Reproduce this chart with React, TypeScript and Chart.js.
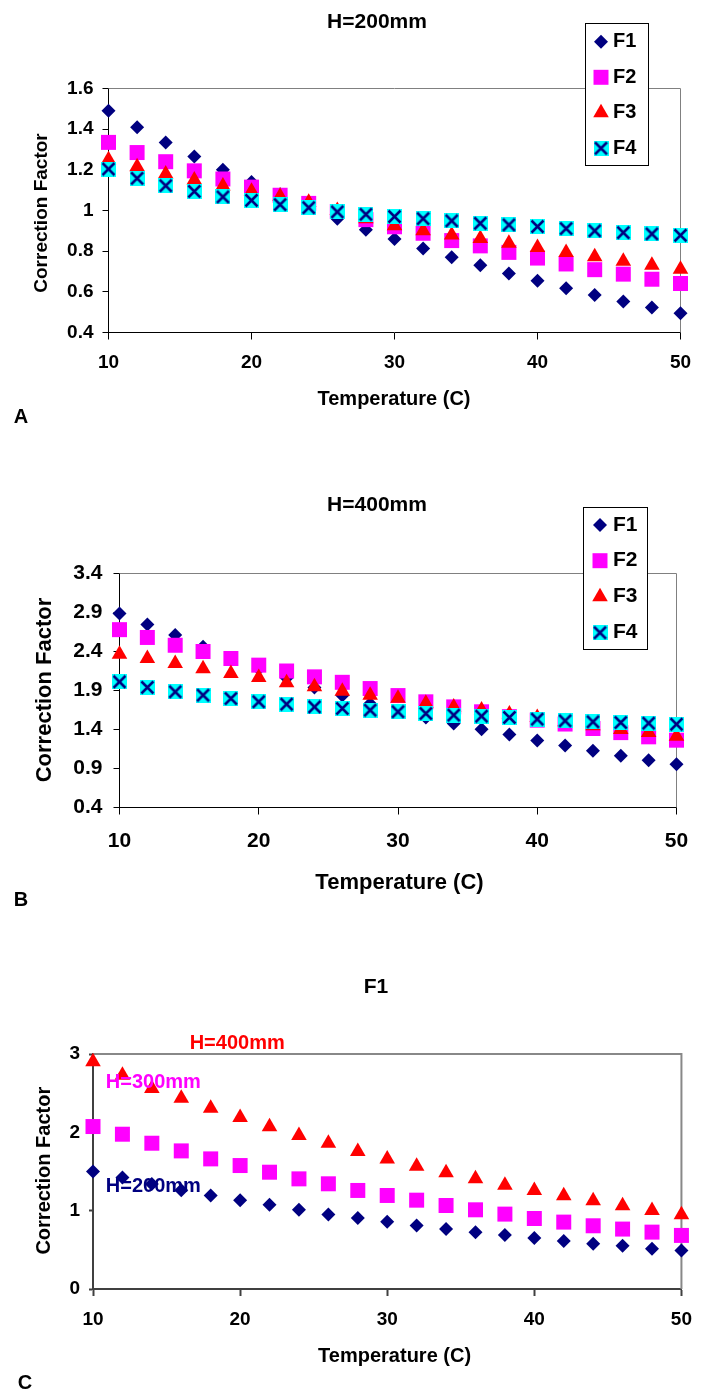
import React, { useEffect, useRef } from 'react';
import { Chart, registerables } from 'chart.js';
import { drawPoint } from 'chart.js/helpers';

Chart.register(...registerables);

// ---------- data ----------
const temperatures = [10, 12, 14, 16, 18, 20, 22, 24, 26, 28, 30, 32, 34, 36, 38, 40, 42, 44, 46, 48, 50];
const xTickValues = [10, 20, 30, 40, 50];

// Panel A: H=200mm
const h200F1 = [1.49, 1.41, 1.335, 1.265, 1.2, 1.14, 1.08, 1.02, 0.96, 0.905, 0.86, 0.813, 0.77, 0.731, 0.69, 0.654, 0.618, 0.585, 0.553, 0.523, 0.495];
const h200F2 = [1.335, 1.285, 1.24, 1.195, 1.155, 1.115, 1.075, 1.035, 0.995, 0.955, 0.92, 0.888, 0.852, 0.826, 0.794, 0.766, 0.737, 0.709, 0.687, 0.662, 0.641];
const h200F3 = [1.25, 1.215, 1.18, 1.15, 1.12, 1.095, 1.07, 1.04, 1.0, 0.96, 0.925, 0.9, 0.88, 0.862, 0.839, 0.818, 0.793, 0.773, 0.75, 0.731, 0.711];
const h200F4 = [1.204, 1.158, 1.122, 1.094, 1.067, 1.05, 1.029, 1.014, 0.993, 0.981, 0.97, 0.96, 0.949, 0.937, 0.929, 0.921, 0.911, 0.9, 0.891, 0.885, 0.878];
const yTicksA = [0.4, 0.6, 0.8, 1, 1.2, 1.4, 1.6];

// Panel B: H=400mm
const h400F1 = [2.887, 2.746, 2.61, 2.46, 2.31, 2.18, 2.06, 1.94, 1.835, 1.73, 1.64, 1.555, 1.477, 1.404, 1.336, 1.259, 1.195, 1.127, 1.062, 1.007, 0.956];
const h400F2 = [2.68, 2.58, 2.48, 2.4, 2.31, 2.225, 2.15, 2.075, 2.005, 1.925, 1.835, 1.755, 1.69, 1.627, 1.565, 1.52, 1.47, 1.413, 1.36, 1.306, 1.263];
const h400F3 = [2.366, 2.31, 2.246, 2.18, 2.118, 2.067, 2.0, 1.947, 1.89, 1.84, 1.8, 1.735, 1.69, 1.65, 1.6, 1.555, 1.5, 1.447, 1.4, 1.36, 1.315];
const h400F4 = [2.011, 1.94, 1.883, 1.84, 1.797, 1.755, 1.725, 1.69, 1.67, 1.648, 1.627, 1.605, 1.585, 1.571, 1.554, 1.533, 1.511, 1.498, 1.489, 1.481, 1.468];
const yTicksB = [0.4, 0.9, 1.4, 1.9, 2.4, 2.9, 3.4];

// Panel C: F1
const f1H200 = [1.5, 1.423, 1.34, 1.26, 1.194, 1.134, 1.075, 1.011, 0.952, 0.905, 0.858, 0.811, 0.765, 0.726, 0.688, 0.65, 0.612, 0.578, 0.552, 0.514, 0.493];
const f1H300 = [2.074, 1.976, 1.861, 1.763, 1.661, 1.576, 1.491, 1.406, 1.343, 1.258, 1.194, 1.134, 1.066, 1.011, 0.956, 0.9, 0.854, 0.807, 0.765, 0.726, 0.684];
const f1H400 = [2.9, 2.73, 2.56, 2.435, 2.307, 2.188, 2.07, 1.96, 1.86, 1.755, 1.66, 1.568, 1.483, 1.406, 1.326, 1.258, 1.19, 1.126, 1.062, 1.003, 0.947];
const yTicksC = [0, 1, 2, 3];

const seriesNamesF = ['F1', 'F2', 'F3', 'F4'];
const seriesNamesH = ['H=200mm', 'H=300mm', 'H=400mm'];

// ---------- styles ----------
const NAVY = '#000080';
const MAGENTA = '#FF00FF';
const RED = '#FF0000';
const CYAN = '#00FFFF';
const FAMILY = "'Liberation Sans', Arial, Helvetica, sans-serif";
const bold = (size: number) => `bold ${size}px ${FAMILY}`;

let xMarkerCache: HTMLCanvasElement | null = null;
function xMarker(): HTMLCanvasElement {
  if (xMarkerCache) return xMarkerCache;
  const s = 15;
  const c = document.createElement('canvas');
  c.width = s;
  c.height = s;
  const g = c.getContext('2d')!;
  g.fillStyle = CYAN;
  g.fillRect(0, 0, s, s);
  g.strokeStyle = NAVY;
  g.lineWidth = 2.5;
  g.beginPath();
  g.moveTo(1.5, 1.5);
  g.lineTo(s - 1.5, s - 1.5);
  g.moveTo(s - 1.5, 1.5);
  g.lineTo(1.5, s - 1.5);
  g.stroke();
  xMarkerCache = c;
  return c;
}

type Marker = 'diamond' | 'square' | 'triangle' | 'xbox';
function markerStyle(m: Marker): { style: any; radius: number } {
  if (m === 'diamond') return { style: 'rectRot', radius: 7 };
  if (m === 'square') return { style: 'rect', radius: 10.6 };
  if (m === 'triangle') return { style: 'triangle', radius: 9 };
  return { style: xMarker(), radius: 7.5 };
}

interface Series { label: string; values: number[]; color: string; marker: Marker; order: number; }
interface TextSpec { text: string; x: number; y: number; size: number; color?: string; }
interface NoteSpec { text: string; dx: number; dy: number; size: number; color: string; under: boolean; }
interface PanelSpec {
  top: number; height: number;
  area: { left: number; right: number; top: number; bottom: number };
  yMin: number; yMax: number; yTicks: number[];
  tickSize: number; xTickLen: number; yTickLen: number; xPad: number; yPad: number;
  axisColor: string; axisWidth: number; frameColor: string; frameWidth: number;
  title: TextSpec; xTitle: TextSpec; yTitle: TextSpec; letter: TextSpec;
  legend?: { left: number; top: number; right: number; bottom: number; rows: number[]; markerX: number; textX: number; size: number };
  notes?: NoteSpec[];
  series: Series[];
}

const W = 704;

const panelA: PanelSpec = {
  top: 0, height: 450,
  area: { left: 108.5, right: 680.5, top: 88.5, bottom: 332.5 },
  yMin: 0.4, yMax: 1.6, yTicks: yTicksA,
  tickSize: 19, xTickLen: 7, yTickLen: 6, xPad: 12, yPad: 9,
  axisColor: '#000000', axisWidth: 1, frameColor: '#808080', frameWidth: 1,
  title: { text: 'H=200mm', x: 377, y: 22.5, size: 21 },
  xTitle: { text: 'Temperature (C)', x: 394, y: 399, size: 20 },
  yTitle: { text: 'Correction Factor', x: 42, y: 213, size: 19 },
  letter: { text: 'A', x: 21, y: 417, size: 20 },
  legend: { left: 585.5, top: 23.5, right: 648.5, bottom: 165.5, rows: [41.7, 77.3, 112.7, 148.3], markerX: 601, textX: 613, size: 20 },
  series: [
    { label: seriesNamesF[0], values: h200F1, color: NAVY, marker: 'diamond', order: 3 },
    { label: seriesNamesF[1], values: h200F2, color: MAGENTA, marker: 'square', order: 2 },
    { label: seriesNamesF[2], values: h200F3, color: RED, marker: 'triangle', order: 1 },
    { label: seriesNamesF[3], values: h200F4, color: CYAN, marker: 'xbox', order: 0 },
  ],
};

const panelB: PanelSpec = {
  top: 450, height: 480,
  area: { left: 119.5, right: 676.5, top: 123.5, bottom: 357.5 },
  yMin: 0.4, yMax: 3.4, yTicks: yTicksB,
  tickSize: 21, xTickLen: 7, yTickLen: 6, xPad: 14, yPad: 11,
  axisColor: '#000000', axisWidth: 1, frameColor: '#808080', frameWidth: 1,
  title: { text: 'H=400mm', x: 377, y: 55, size: 21 },
  xTitle: { text: 'Temperature (C)', x: 399.5, y: 433, size: 22 },
  yTitle: { text: 'Correction Factor', x: 45, y: 240, size: 22 },
  letter: { text: 'B', x: 21, y: 450.7, size: 20 },
  legend: { left: 583.5, top: 57.5, right: 647.5, bottom: 199.5, rows: [75, 110.7, 146.7, 182.7], markerX: 600, textX: 613, size: 21 },
  series: [
    { label: seriesNamesF[0], values: h400F1, color: NAVY, marker: 'diamond', order: 3 },
    { label: seriesNamesF[1], values: h400F2, color: MAGENTA, marker: 'square', order: 2 },
    { label: seriesNamesF[2], values: h400F3, color: RED, marker: 'triangle', order: 1 },
    { label: seriesNamesF[3], values: h400F4, color: CYAN, marker: 'xbox', order: 0 },
  ],
};

const panelC: PanelSpec = {
  top: 940, height: 455,
  area: { left: 93, right: 692, top: 114, bottom: 349 },
  yMin: 0, yMax: 3, yTicks: yTicksC,
  tickSize: 19, xTickLen: 7, yTickLen: 4, xPad: 12, yPad: 9,
  axisColor: '#404040', axisWidth: 2, frameColor: '#888888', frameWidth: 2,
  title: { text: 'F1', x: 376, y: 47, size: 21 },
  xTitle: { text: 'Temperature (C)', x: 394.6, y: 416, size: 20 },
  yTitle: { text: 'Correction Factor', x: 44.5, y: 230.7, size: 20 },
  letter: { text: 'C', x: 25, y: 443, size: 20 },
  notes: [
    { text: seriesNamesH[2], dx: 19.8, dy: 3.136, size: 20, color: RED, under: false },
    { text: seriesNamesH[1], dx: 14.1, dy: 2.634, size: 20, color: MAGENTA, under: false },
    { text: seriesNamesH[0], dx: 14.1, dy: 1.307, size: 20, color: NAVY, under: true },
  ],
  series: [
    { label: seriesNamesH[2], values: f1H400, color: RED, marker: 'triangle', order: 2 },
    { label: seriesNamesH[1], values: f1H300, color: MAGENTA, marker: 'square', order: 1 },
    { label: seriesNamesH[0], values: f1H200, color: NAVY, marker: 'diamond', order: 0 },
  ],
};

function drawText(ctx: CanvasRenderingContext2D, t: TextSpec, rotate = false, align: CanvasTextAlign = 'center') {
  ctx.save();
  ctx.font = bold(t.size);
  ctx.fillStyle = t.color || '#000000';
  ctx.textAlign = align;
  ctx.textBaseline = 'middle';
  ctx.translate(t.x, t.y);
  if (rotate) ctx.rotate(-Math.PI / 2);
  ctx.fillText(t.text, 0, 0);
  ctx.restore();
}

function drawNote(chart: any, n: NoteSpec) {
  const x = chart.scales.x.getPixelForValue(n.dx);
  const y = chart.scales.y.getPixelForValue(n.dy);
  drawText(chart.ctx, { text: n.text, x, y, size: n.size, color: n.color });
}

function makePlugin(spec: PanelSpec) {
  return {
    id: 'panelDecor',
    beforeDatasetsDraw(chart: any) {
      const { ctx, chartArea: a } = chart;
      ctx.save();
      ctx.strokeStyle = spec.frameColor;
      ctx.lineWidth = spec.frameWidth;
      ctx.beginPath();
      ctx.moveTo(a.left, a.top);
      ctx.lineTo(a.right, a.top);
      ctx.lineTo(a.right, a.bottom);
      ctx.stroke();
      ctx.restore();
      (spec.notes || []).filter((n) => n.under).forEach((n) => drawNote(chart, n));
    },
    afterDatasetsDraw(chart: any) {
      const ctx: CanvasRenderingContext2D = chart.ctx;
      (spec.notes || []).filter((n) => !n.under).forEach((n) => drawNote(chart, n));
      const lg = spec.legend;
      if (lg) {
        ctx.save();
        ctx.fillStyle = '#ffffff';
        ctx.fillRect(lg.left, lg.top, lg.right - lg.left, lg.bottom - lg.top);
        ctx.strokeStyle = '#000000';
        ctx.lineWidth = 1;
        ctx.strokeRect(lg.left, lg.top, lg.right - lg.left, lg.bottom - lg.top);
        chart.data.datasets.forEach((ds: any, i: number) => {
          const y = lg.rows[i];
          ctx.save();
          ctx.fillStyle = ds.pointBackgroundColor;
          ctx.strokeStyle = ds.pointBorderColor;
          drawPoint(ctx, { pointStyle: ds.pointStyle, radius: ds.pointRadius, rotation: 0, borderWidth: 0 } as any, lg.markerX, y);
          ctx.restore();
          drawText(ctx, { text: ds.label, x: lg.textX, y, size: lg.size }, false, 'left');
        });
        ctx.restore();
      }
    },
    afterDraw(chart: any) {
      const ctx = chart.ctx;
      drawText(ctx, spec.title);
      drawText(ctx, spec.xTitle);
      drawText(ctx, spec.yTitle, true);
      drawText(ctx, spec.letter);
    },
  };
}

function buildChart(canvas: HTMLCanvasElement, spec: PanelSpec) {
  const a = spec.area;
  const datasets = spec.series.map((s) => {
    const m = markerStyle(s.marker);
    return {
      label: s.label,
      data: temperatures.map((t, i) => ({ x: t, y: s.values[i] })),
      pointStyle: m.style,
      pointRadius: m.radius,
      pointHoverRadius: m.radius,
      pointBackgroundColor: s.color,
      pointBorderColor: s.color,
      pointBorderWidth: 0,
      showLine: false,
      clip: false as any,
      order: s.order,
    };
  });
  const tickFont = { family: FAMILY, size: spec.tickSize, weight: 'bold' as const };
  return new Chart(canvas, {
    type: 'scatter',
    data: { datasets },
    options: {
      responsive: false,
      animation: false,
      devicePixelRatio: 1,
      events: [],
      layout: { padding: { left: 0, top: a.top, right: W - a.right, bottom: 0 } },
      plugins: {
        legend: { display: false },
        title: { display: false },
        tooltip: { enabled: false },
      },
      scales: {
        x: {
          type: 'linear',
          min: 10,
          max: 50,
          afterBuildTicks: (s: any) => { s.ticks = xTickValues.map((v) => ({ value: v })); },
          afterFit: (s: any) => { s.height = spec.height - a.bottom; },
          ticks: {
            font: tickFont, color: '#000000', padding: spec.xPad, maxRotation: 0, autoSkip: false,
            callback: (v: any) => String(v),
          },
          grid: { display: true, drawOnChartArea: false, drawTicks: true, tickLength: spec.xTickLen, tickColor: spec.axisColor, tickWidth: spec.axisWidth },
          border: { display: true, color: spec.axisColor, width: spec.axisWidth },
        },
        y: {
          type: 'linear',
          min: spec.yMin,
          max: spec.yMax,
          afterBuildTicks: (s: any) => { s.ticks = spec.yTicks.map((v) => ({ value: v })); },
          afterFit: (s: any) => { s.width = a.left; },
          ticks: {
            font: tickFont, color: '#000000', padding: spec.yPad, autoSkip: false,
            callback: (v: any) => String(v),
          },
          grid: { display: true, drawOnChartArea: false, drawTicks: true, tickLength: spec.yTickLen, tickColor: spec.axisColor, tickWidth: spec.axisWidth },
          border: { display: true, color: spec.axisColor, width: spec.axisWidth },
        },
      },
    } as any,
    plugins: [makePlugin(spec) as any],
  });
}

function Panel({ spec }: { spec: PanelSpec }) {
  const ref = useRef<HTMLCanvasElement>(null);
  useEffect(() => {
    const chart = buildChart(ref.current!, spec);
    return () => chart.destroy();
  }, [spec]);
  return (
    <canvas
      ref={ref}
      width={W}
      height={spec.height}
      style={{ position: 'absolute', left: 0, top: spec.top, width: W, height: spec.height, display: 'block' }}
    />
  );
}

export default function App() {
  return (
    <div style={{ position: 'absolute', left: 0, top: 0, width: W, height: 1395, background: '#ffffff', overflow: 'hidden' }}>
      <Panel spec={panelA} />
      <Panel spec={panelB} />
      <Panel spec={panelC} />
    </div>
  );
}
